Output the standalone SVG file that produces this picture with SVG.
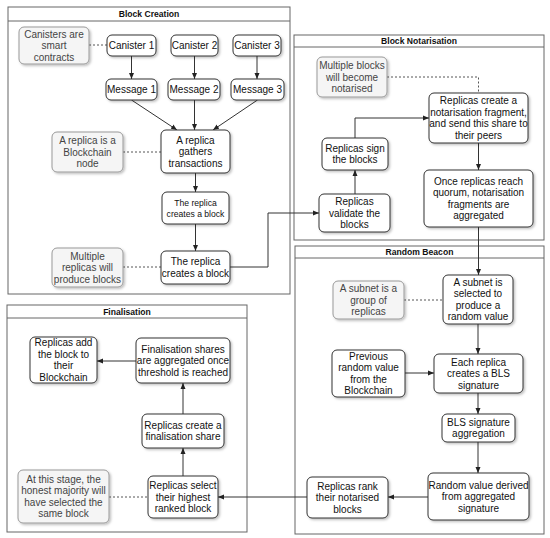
<svg xmlns="http://www.w3.org/2000/svg" width="550" height="538" viewBox="0 0 550 538">
<defs>
<marker id="arr" markerWidth="6" markerHeight="6" refX="6" refY="3" orient="auto" markerUnits="userSpaceOnUse">
<path d="M0,0.5 L6,3 L0,5.5 z" fill="#222"/>
</marker>
<filter id="sh" x="-10%" y="-10%" width="130%" height="130%">
<feDropShadow dx="1.5" dy="1.5" stdDeviation="0.8" flood-color="#000" flood-opacity="0.25"/>
</filter>
<style>
text{font-family:"Liberation Sans",Arial,sans-serif;font-size:10px;fill:#111;text-anchor:middle}
.title{font-weight:bold;font-size:8.6px}
.sm{font-size:8.6px}
.cont{fill:#fff;stroke:#666;stroke-width:1}
.node rect{fill:#fff;stroke:#333;stroke-width:1;filter:url(#sh)}
.note rect{fill:#f5f5f5;stroke:#999;stroke-width:1;filter:url(#sh)}
.note text{fill:#444}
.edge{fill:none;stroke:#333;stroke-width:1;marker-end:url(#arr)}
.line{fill:none;stroke:#333;stroke-width:1}
.dot{fill:none;stroke:#555;stroke-width:1;stroke-dasharray:2 2}
</style>
</defs>
<rect width="550" height="538" fill="#fff"/>

<g id="containers">
<g id="block-creation">
<rect class="cont" x="8" y="7" width="282" height="287"/>
<line x1="8" y1="21" x2="290" y2="21" stroke="#666"/>
<text class="title" x="149" y="17">Block Creation</text>
</g>
<g id="block-notarisation">
<rect class="cont" x="294" y="35" width="250" height="205"/>
<line x1="294" y1="47" x2="544" y2="47" stroke="#666"/>
<text class="title" x="419" y="44">Block Notarisation</text>
</g>
<g id="random-beacon">
<rect class="cont" x="295" y="246" width="249" height="288"/>
<line x1="295" y1="258" x2="544" y2="258" stroke="#666"/>
<text class="title" x="419.5" y="255">Random Beacon</text>
</g>
<g id="finalisation">
<rect class="cont" x="7" y="305" width="240" height="227"/>
<line x1="7" y1="318" x2="247" y2="318" stroke="#666"/>
<text class="title" x="127" y="314.5">Finalisation</text>
</g>
</g>

<g id="connectors">
<path class="edge" d="M131.5,56 V79"/>
<path class="edge" d="M194.5,56 V79"/>
<path class="edge" d="M257,56 V79"/>
<path class="edge" d="M131.5,100 L177,130"/>
<path class="edge" d="M194.5,100 V130"/>
<path class="edge" d="M257.5,100 L213,130"/>
<path class="edge" d="M195.5,173 V192"/>
<path class="edge" d="M195.5,224 V251"/>
<path class="edge" d="M230,267 H268 V213 H319"/>
<path class="edge" d="M355,194 V170"/>
<path class="edge" d="M355,138 V118 H429"/>
<path class="edge" d="M478.5,143 V170"/>
<path class="edge" d="M478.5,227 V275"/>
<path class="edge" d="M478,324 V354"/>
<path class="edge" d="M405,373 H434"/>
<path class="edge" d="M478,393 V414"/>
<path class="edge" d="M478,442 V473"/>
<path class="edge" d="M428,497 H388"/>
<path class="edge" d="M307,497 H218"/>
<path class="edge" d="M183,476 V448"/>
<path class="edge" d="M183,414 V383"/>
<path class="edge" d="M136,361 H97"/>
<path class="dot" d="M89,45 H107"/>
<path class="dot" d="M123,152 H161"/>
<path class="dot" d="M123,267 H161"/>
<path class="dot" d="M387,77 H478.5 V93"/>
<path class="dot" d="M404,300 H443"/>
<path class="dot" d="M109,497 H148"/>
</g>

<g id="note-canisters" class="note">
<rect x="19" y="27" width="70" height="37" rx="5"/>
<text x="54"><tspan x="54" y="37.5">Canisters are</tspan><tspan x="54" y="49">smart</tspan><tspan x="54" y="60.5">contracts</tspan></text>
</g>
<g id="canister1" class="node"><rect x="107" y="35" width="49" height="21" rx="5"/><text x="131.5" y="49">Canister 1</text></g>
<g id="canister2" class="node"><rect x="171" y="35" width="47" height="21" rx="5"/><text x="194.5" y="49">Canister 2</text></g>
<g id="canister3" class="node"><rect x="233" y="35" width="48" height="21" rx="5"/><text x="257" y="49">Canister 3</text></g>
<g id="message1" class="node"><rect x="106" y="79" width="51" height="21" rx="5"/><text x="131.5" y="93">Message 1</text></g>
<g id="message2" class="node"><rect x="168" y="79" width="52" height="21" rx="5"/><text x="194" y="93">Message 2</text></g>
<g id="message3" class="node"><rect x="231" y="79" width="53" height="21" rx="5"/><text x="257.5" y="93">Message 3</text></g>
<g id="gather" class="node">
<rect x="161" y="130" width="69" height="43" rx="5"/>
<text><tspan x="195.5" y="143.5">A replica</tspan><tspan x="195.5" y="155">gathers</tspan><tspan x="195.5" y="166.5">transactions</tspan></text>
</g>
<g id="note-replica" class="note">
<rect x="52" y="132" width="71" height="40" rx="5"/>
<text><tspan x="87.5" y="144">A replica is a</tspan><tspan x="87.5" y="155.5">Blockchain</tspan><tspan x="87.5" y="167">node</tspan></text>
</g>
<g id="create1" class="node">
<rect x="162" y="192" width="67" height="32" rx="5"/>
<text class="sm"><tspan x="195.5" y="206">The replica</tspan><tspan x="195.5" y="216.5">creates a block</tspan></text>
</g>
<g id="create2" class="node">
<rect x="161" y="251" width="69" height="33" rx="5"/>
<text><tspan x="195.5" y="265.25">The replica</tspan><tspan x="195.5" y="276.75">creates a block</tspan></text>
</g>
<g id="note-multiple" class="note">
<rect x="52" y="248" width="71" height="39" rx="5"/>
<text><tspan x="87.5" y="259.5">Multiple</tspan><tspan x="87.5" y="271">replicas will</tspan><tspan x="87.5" y="282.5">produce blocks</tspan></text>
</g>

<g id="note-notarised" class="note">
<rect x="317" y="57" width="70" height="40" rx="5"/>
<text><tspan x="352" y="69">Multiple blocks</tspan><tspan x="352" y="80.5">will become</tspan><tspan x="352" y="92">notarised</tspan></text>
</g>
<g id="fragment" class="node">
<rect x="429" y="93" width="99" height="50" rx="5"/>
<text><tspan x="478.5" y="104.25">Replicas create a</tspan><tspan x="478.5" y="115.75">notarisation fragment,</tspan><tspan x="478.5" y="127.25">and send this share to</tspan><tspan x="478.5" y="138.75">their peers</tspan></text>
</g>
<g id="sign" class="node">
<rect x="322" y="138" width="66" height="32" rx="5"/>
<text><tspan x="355" y="151.75">Replicas sign</tspan><tspan x="355" y="163.25">the blocks</tspan></text>
</g>
<g id="validate" class="node">
<rect x="319" y="194" width="71" height="38" rx="5"/>
<text><tspan x="354.5" y="205">Replicas</tspan><tspan x="354.5" y="216.5">validate the</tspan><tspan x="354.5" y="228">blocks</tspan></text>
</g>
<g id="quorum" class="node">
<rect x="424" y="170" width="109" height="57" rx="5"/>
<text><tspan x="478.5" y="184.75">Once replicas reach</tspan><tspan x="478.5" y="196.25">quorum, notarisation</tspan><tspan x="478.5" y="207.75">fragments are</tspan><tspan x="478.5" y="219.25">aggregated</tspan></text>
</g>

<g id="subnet" class="node">
<rect x="443" y="275" width="70" height="49" rx="5"/>
<text><tspan x="478" y="285.75">A subnet is</tspan><tspan x="478" y="297.25">selected to</tspan><tspan x="478" y="308.75">produce a</tspan><tspan x="478" y="320.25">random value</tspan></text>
</g>
<g id="note-subnet" class="note">
<rect x="333" y="281" width="71" height="38" rx="5"/>
<text><tspan x="368.5" y="292">A subnet is a</tspan><tspan x="368.5" y="303.5">group of</tspan><tspan x="368.5" y="315">replicas</tspan></text>
</g>
<g id="each" class="node">
<rect x="434" y="354" width="89" height="39" rx="5"/>
<text><tspan x="478.5" y="365.5">Each replica</tspan><tspan x="478.5" y="377">creates a BLS</tspan><tspan x="478.5" y="388.5">signature</tspan></text>
</g>
<g id="previous" class="node">
<rect x="332" y="350" width="73" height="47" rx="5"/>
<text><tspan x="368.5" y="359.75">Previous</tspan><tspan x="368.5" y="371.25">random value</tspan><tspan x="368.5" y="382.75">from the</tspan><tspan x="368.5" y="394.25">Blockchain</tspan></text>
</g>
<g id="bls" class="node">
<rect x="442" y="414" width="73" height="28" rx="5"/>
<text><tspan x="478.5" y="425.75">BLS signature</tspan><tspan x="478.5" y="437.25">aggregation</tspan></text>
</g>
<g id="random" class="node">
<rect x="428" y="473" width="101" height="47" rx="5"/>
<text><tspan x="478.5" y="488.5">Random value derived</tspan><tspan x="478.5" y="500">from aggregated</tspan><tspan x="478.5" y="511.5">signature</tspan></text>
</g>
<g id="rank" class="node">
<rect x="307" y="477" width="81" height="41" rx="5"/>
<text><tspan x="347.5" y="489.5">Replicas rank</tspan><tspan x="347.5" y="501">their notarised</tspan><tspan x="347.5" y="512.5">blocks</tspan></text>
</g>

<g id="add" class="node">
<rect x="30" y="337" width="67" height="46" rx="5"/>
<text><tspan x="63.5" y="346.25">Replicas add</tspan><tspan x="63.5" y="357.75">the block to</tspan><tspan x="63.5" y="369.25">their</tspan><tspan x="63.5" y="380.75">Blockchain</tspan></text>
</g>
<g id="shares" class="node">
<rect x="136" y="338" width="94" height="45" rx="5"/>
<text><tspan x="183" y="352.5">Finalisation shares</tspan><tspan x="183" y="364">are aggregated once</tspan><tspan x="183" y="375.5">threshold is reached</tspan></text>
</g>
<g id="share" class="node">
<rect x="142" y="414" width="82" height="34" rx="5"/>
<text><tspan x="183" y="428.75">Replicas create a</tspan><tspan x="183" y="440.25">finalisation share</tspan></text>
</g>
<g id="select" class="node">
<rect x="148" y="476" width="70" height="42" rx="5"/>
<text><tspan x="183" y="489">Replicas select</tspan><tspan x="183" y="500.5">their highest</tspan><tspan x="183" y="512">ranked block</tspan></text>
</g>
<g id="note-stage" class="note">
<rect x="18" y="470" width="91" height="53" rx="5"/>
<text><tspan x="63.5" y="482.75">At this stage, the</tspan><tspan x="63.5" y="494.25">honest majority will</tspan><tspan x="63.5" y="505.75">have selected the</tspan><tspan x="63.5" y="517.25">same block</tspan></text>
</g>
</svg>
